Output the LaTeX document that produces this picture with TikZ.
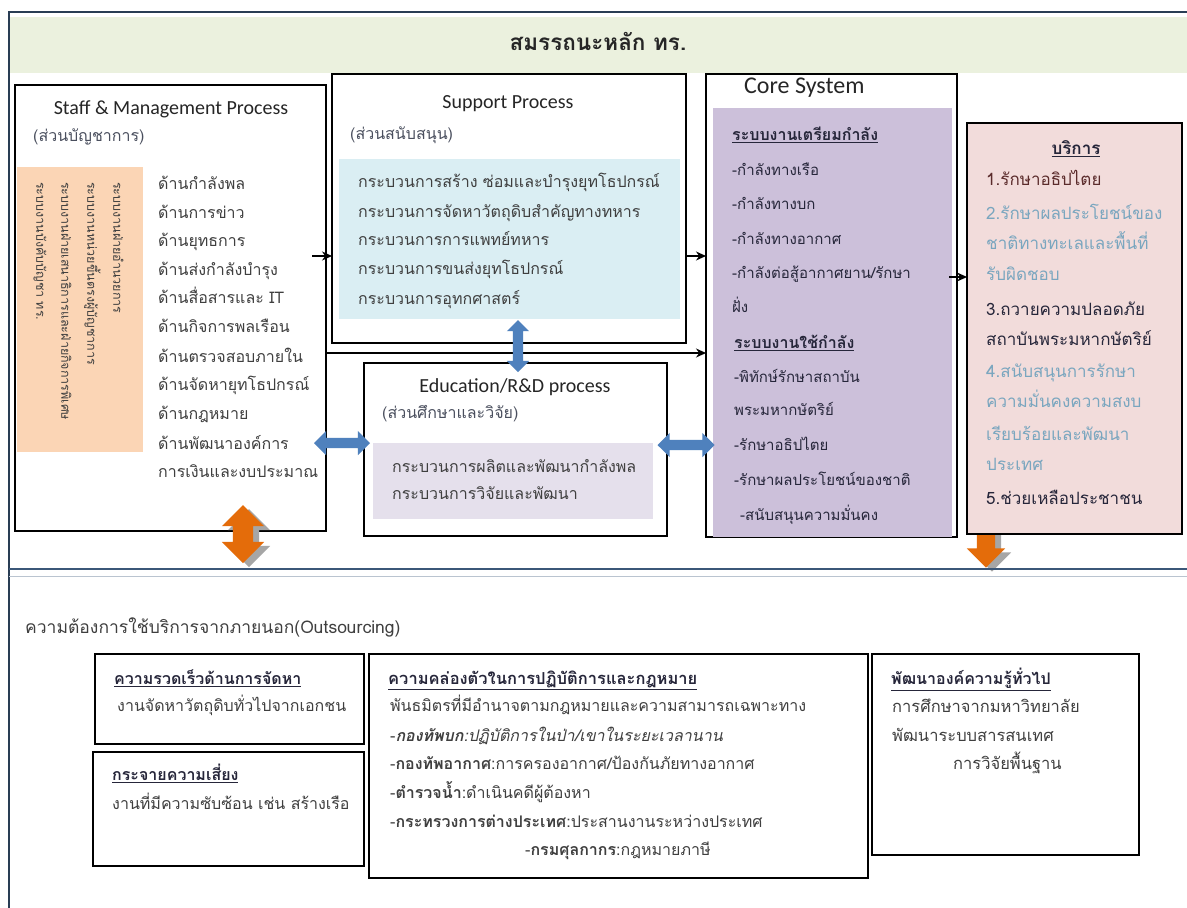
\documentclass[tikz,border=0pt]{standalone}
\usepackage{fontspec}
\setmainfont[Script=Thai]{Loma}
\newfontfamily\lat{Carlito}
\usetikzlibrary{arrows.meta,shapes.arrows}
\definecolor{bandg}{HTML}{EBF1DE}
\definecolor{peach}{HTML}{FBD5B5}
\definecolor{lblue}{HTML}{DAEEF3}
\definecolor{lilac}{HTML}{E5E0EC}
\definecolor{purp}{HTML}{CCC0DA}
\definecolor{pinkc}{HTML}{F2DCDB}
\definecolor{barrow}{HTML}{4F81BD}
\definecolor{oarrow}{HTML}{E46C0A}
\definecolor{navy}{HTML}{3B5778}
\definecolor{tc}{HTML}{3F3F3F}
\definecolor{subc}{HTML}{4A4F5E}
\definecolor{dred}{HTML}{5B2B2B}
\definecolor{sblue}{HTML}{7AA6BF}
\definecolor{dk}{HTML}{26263A}
\definecolor{shad}{HTML}{A6A6A6}
\newcommand\fsz{\fontsize{16}{19}\selectfont}
\newcommand\fsv{\fontsize{12.5}{15}\selectfont}
\newcommand\fss{\fontsize{17}{20}\selectfont}
\newcommand\fsc{\fontsize{15}{18}\selectfont}
\newcommand\fsd{\fontsize{16.5}{19}\selectfont}
\begin{document}
\begin{tikzpicture}[x=1pt,y=-1pt,
 box/.style={draw=black, line width=1.3pt, anchor=north west, inner sep=0pt, outer sep=0pt},
 panel/.style={anchor=north west, inner sep=0pt, outer sep=0pt, draw=none, fill=#1},
 t/.style={anchor=mid west, inner sep=0pt, font=\fsz, text=tc},
 tv/.style={anchor=mid west, inner sep=0pt, font=\fsv, text=tc, rotate=-90},
 ct/.style={anchor=mid west, inner sep=0pt, font=\fsc, text=dk},
 st/.style={anchor=mid west, inner sep=0pt, font=\fss, text=dk},
 lt/.style={anchor=mid, inner sep=0pt, font=\lat\fontsize{20}{24}\selectfont, text=black!85},
 arr/.style={-{Stealth[length=10pt,width=9pt]}, line width=1.2pt},
 darrow/.style={double arrow, fill=#1, draw=none, inner xsep=0pt, double arrow tip angle=90},
 sarrow/.style={single arrow, fill=#1, draw=none, inner xsep=0pt, single arrow tip angle=90},
]
\useasboundingbox (0,0) rectangle (1187,908);
\fill[white] (0,0) rectangle (1187,908);
% frame and band
\draw[navy!70!black, line width=1.3pt] (9,908) -- (9,12) -- (1187,12);
\node[panel=bandg, minimum width=1177pt, minimum height=56pt] (band) at (10,17) {};
\node[anchor=mid, inner sep=0pt, font=\bfseries\fontsize{22.5}{26}\selectfont, text=black!85] (title) at (598,48) {สมรรถนะหลัก ทร.};

% orange arrow under service (upper part hidden by the box)
\node[sarrow=shad, minimum height=62pt, minimum width=38pt, inner ysep=9pt, single arrow head extend=10pt, rotate=-90] (o2s) at (992,536) {};
\node[sarrow=oarrow, minimum height=62pt, minimum width=38pt, inner ysep=9pt, single arrow head extend=10pt, rotate=-90] (o2) at (986,532) {};

% Staff box
\node[box, minimum width=311pt, minimum height=446pt] (staff) at (15,85) {};
\node[lt] (stt) at (171,112) {Staff \& Management Process};
\node[t, text=subc] (sts) at (33,139) {(ส่วนบัญชาการ)};
\node[panel=peach, minimum width=126pt, minimum height=285pt] (orng) at (17,167) {};
\node[tv] (v1) at (116,182) {ระบบงานฝ่ายอำนวยการ};
\node[tv] (v2) at (90,182) {ระบบงานหน่วยขึ้นตรงผู้บัญชาการ};
\node[tv] (v3) at (64,182) {ระบบงานฝ่ายเสนาธิการและฝ่ายกิจการพิเศษ};
\node[tv] (v4) at (39,182) {ระบบงานบังคับบัญชา ทร.};
\node[t] (s1) at (158,187) {ด้านกำลังพล};
\node[t] (s2) at (158,216) {ด้านการข่าว};
\node[t] (s3) at (158,244) {ด้านยุทธการ};
\node[t] (s4) at (158,273) {ด้านส่งกำลังบำรุง};
\node[t] (s5) at (158,301) {ด้านสื่อสารและ IT};
\node[t] (s6) at (158,330) {ด้านกิจการพลเรือน};
\node[t] (s7) at (158,360) {ด้านตรวจสอบภายใน};
\node[t] (s8) at (158,388) {ด้านจัดหายุทโธปกรณ์};
\node[t] (s9) at (158,417) {ด้านกฎหมาย};
\node[t] (s10) at (158,447) {ด้านพัฒนาองค์การ};
\node[t] (s11) at (158,475) {การเงินและงบประมาณ};

% Support box
\node[box, minimum width=354pt, minimum height=269pt] (support) at (332,74) {};
\node[lt] (spt) at (508,106) {Support Process};
\node[t, text=subc] (sps) at (350,137) {(ส่วนสนับสนุน)};
\node[panel=lblue, minimum width=341pt, minimum height=160pt] (spp) at (339,159) {};
\node[t] (p1) at (358,185) {กระบวนการสร้าง ซ่อมและบำรุงยุทโธปกรณ์};
\node[t] (p2) at (358,215) {กระบวนการจัดหาวัตถุดิบสำคัญทางทหาร};
\node[t] (p3) at (358,243) {กระบวนการการแพทย์ทหาร};
\node[t] (p4) at (358,272) {กระบวนการขนส่งยุทโธปกรณ์};
\node[t] (p5) at (358,302) {กระบวนการอุทกศาสตร์};

% Education box
\node[box, minimum width=303pt, minimum height=173pt] (edu) at (364,363) {};
\node[lt] (edt) at (515,390) {Education/R\&D process};
\node[t, text=subc] (eds) at (382,416) {(ส่วนศึกษาและวิจัย)};
\node[panel=lilac, minimum width=280pt, minimum height=76pt] (edp) at (373,443) {};
\node[t] (e1) at (392,470) {กระบวนการผลิตและพัฒนากำลังพล};
\node[t] (e2) at (392,497) {กระบวนการวิจัยและพัฒนา};

% Core box
\node[box, minimum width=251pt, minimum height=463pt] (core) at (706,74) {};
\node[anchor=mid west, inner sep=0pt, font=\lat\fontsize{24}{28}\selectfont, text=black!85] (cot) at (744,91) {Core System};
\node[panel=purp, minimum width=239pt, minimum height=429pt] (cop) at (713,108) {};
\node[ct, font=\fontsize{16}{19}\selectfont\bfseries] (c0) at (732,138) {\underline{ระบบงานเตรียมกำลัง}};
\node[ct] (c1) at (732,173) {-กำลังทางเรือ};
\node[ct] (c2) at (732,207) {-กำลังทางบก};
\node[ct] (c3) at (732,242) {-กำลังทางอากาศ};
\node[ct] (c4) at (732,276) {-กำลังต่อสู้อากาศยาน/รักษา};
\node[ct] (c5) at (732,310) {ฝั่ง};
\node[ct, font=\fontsize{16}{19}\selectfont\bfseries] (c6) at (734,346) {\underline{ระบบงานใช้กำลัง}};
\node[ct] (c7) at (734,380) {-พิทักษ์รักษาสถาบัน};
\node[ct] (c8) at (734,413) {พระมหากษัตริย์};
\node[ct] (c9) at (734,448) {-รักษาอธิปไตย};
\node[ct] (c10) at (734,483) {-รักษาผลประโยชน์ของชาติ};
\node[ct] (c11) at (740,518) {-สนับสนุนความมั่นคง};

% Service box
\node[box, fill=pinkc, minimum width=215pt, minimum height=411pt] (service) at (967,123) {};
\node[anchor=mid, inner sep=0pt, font=\fss\bfseries, text=dk] (svt) at (1076,152) {\underline{บริการ}};
\node[st, text=dred] (r1) at (986,183) {1.รักษาอธิปไตย};
\node[st, text=sblue] (r2) at (986,217) {2.รักษาผลประโยชน์ของ};
\node[st, text=sblue] (r3) at (986,247) {ชาติทางทะเลและพื้นที่};
\node[st, text=sblue] (r4) at (986,278) {รับผิดชอบ};
\node[st] (r5) at (986,313) {3.ถวายความปลอดภัย};
\node[st] (r6) at (986,343) {สถาบันพระมหากษัตริย์};
\node[st, text=sblue] (r7) at (986,375) {4.สนับสนุนการรักษา};
\node[st, text=sblue] (r8) at (986,405) {ความมั่นคงความสงบ};
\node[st, text=sblue] (r9) at (986,438) {เรียบร้อยและพัฒนา};
\node[st, text=sblue] (r10) at (986,468) {ประเทศ};
\node[st] (r11) at (986,502) {5.ช่วยเหลือประชาชน};

% connectors
\coordinate (a1) at (312,256);
\draw[arr] (a1) -- (a1 -| support.west);
\coordinate (a2) at (686,256);
\draw[arr] (support.east |- a2) -- (core.west |- a2);
\coordinate (a3) at (326,353);
\draw[arr] (staff.east |- a3) -- (core.west |- a3);
\coordinate (a4) at (949,277);
\draw[arr] (a4) -- (service.west |- a4);

% blue double arrows
\node[darrow=barrow, minimum height=52pt, minimum width=22pt, inner ysep=5pt, double arrow head extend=6pt, rotate=90] (b1) at (518,346) {};
\node[darrow=barrow, minimum height=56pt, minimum width=24pt, inner ysep=5pt, double arrow head extend=7pt] (b2) at (342,443) {};
\node[darrow=barrow, minimum height=57pt, minimum width=24pt, inner ysep=5pt, double arrow head extend=7pt] (b3) at (686,445) {};

% orange double arrow left
\node[darrow=shad, minimum height=58pt, minimum width=42pt, inner ysep=10pt, double arrow head extend=11pt, rotate=90] (o1s) at (249,538) {};
\node[darrow=oarrow, minimum height=58pt, minimum width=42pt, inner ysep=10pt, double arrow head extend=11pt, rotate=90] (o1) at (243,534) {};

% separator
\draw[navy, line width=2.5pt] (9,569) -- (1187,569);
\draw[navy!35, line width=1pt] (9,576) -- (1187,576);

% bottom
\node[t, font=\fontsize{17.5}{20}\selectfont] (ob) at (25,631) {ความต้องการใช้บริการจากภายนอก(Outsourcing)};
\node[box, minimum width=269pt, minimum height=90pt] (bA) at (95,654) {};
\node[t, text=dk] (bA1) at (114,682) {\textbf{\underline{ความรวดเร็วด้านการจัดหา}}};
\node[t] (bA2) at (117,709) {งานจัดหาวัตถุดิบทั่วไปจากเอกชน};
\node[box, minimum width=271pt, minimum height=114pt] (bB) at (93,752) {};
\node[t, text=dk] (bB1) at (112,778) {\textbf{\underline{กระจายความเสี่ยง}}};
\node[t] (bB2) at (112,807) {งานที่มีความซับซ้อน เช่น สร้างเรือ};
\node[box, minimum width=499pt, minimum height=224pt] (bC) at (369,654) {};
\node[t, text=dk, font=\fontsize{16.5}{19}\selectfont] (bC1) at (388,682) {\textbf{\underline{ความคล่องตัวในการปฏิบัติการและกฎหมาย}}};
\node[t] (bC2) at (390,709) {พันธมิตรที่มีอำนาจตามกฎหมายและความสามารถเฉพาะทาง};
\node[t] (bC3) at (390,739) {-\textbf{\textit{กองทัพบก}}\textit{:ปฏิบัติการในป่า/เขาในระยะเวลานาน}};
\node[t] (bC4) at (390,767) {-\textbf{กองทัพอากาศ}:การครองอากาศ/ป้องกันภัยทางอากาศ};
\node[t] (bC5) at (390,796) {-\textbf{ตำรวจน้ำ}:ดำเนินคดีผู้ต้องหา};
\node[t] (bC6) at (390,825) {-\textbf{กระทรวงการต่างประเทศ}:ประสานงานระหว่างประเทศ};
\node[t] (bC7) at (525,853) {-\textbf{กรมศุลกากร}:กฎหมายภาษี};
\node[box, minimum width=267pt, minimum height=201pt] (bD) at (872,654) {};
\node[t, text=dk] (bD1) at (891,682) {\textbf{\underline{พัฒนาองค์ความรู้ทั่วไป}}};
\node[t, font=\fsd] (bD2) at (892,710) {การศึกษาจากมหาวิทยาลัย};
\node[t, font=\fsd] (bD3) at (892,739) {พัฒนาระบบสารสนเทศ};
\node[t, font=\fsd] (bD4) at (953,767) {การวิจัยพื้นฐาน};
\end{tikzpicture}
\end{document}
